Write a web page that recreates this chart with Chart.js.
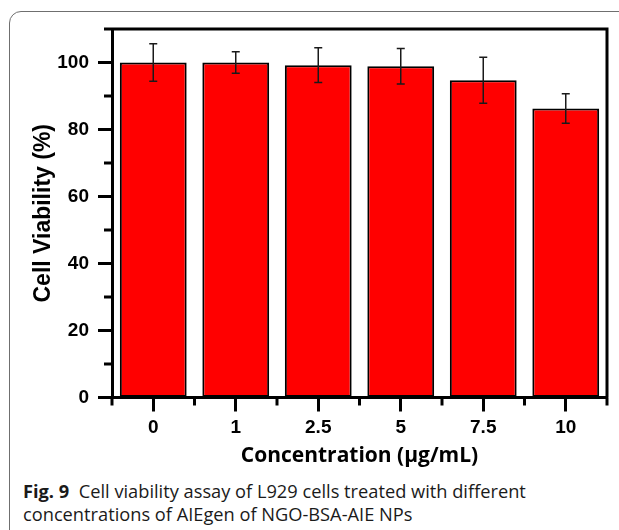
<!DOCTYPE html>
<html>
<head>
<meta charset="utf-8">
<script src="https://cdn.jsdelivr.net/npm/chart.js@4.4.1/dist/chart.umd.min.js"></script>
<style>
	html, body { margin: 0; padding: 0; background: #fff; }
	body { width: 619px; height: 530px; position: relative; overflow: hidden; }
	#frame {
		position: absolute; left: 9px; top: 11px; width: 700px; height: 600px;
		border: 1.5px solid #6f6f6f; border-top-left-radius: 12px; box-sizing: border-box;
	}
	#wrap { position: absolute; left: 0; top: 0; width: 619px; height: 470px; }
	#caption {
		position: absolute; left: 23px; top: 480px; font-family: "Open Sans", sans-serif;
		font-size: 18.5px; line-height: 23px; color: #1a1a1a; white-space: nowrap;
	}
	#caption b { font-weight: 700; }
</style>
</head>
<body>
<div id="frame"></div>
<div id="wrap"><canvas id="viability-chart" width="619" height="470"></canvas></div>
<div id="caption"><span id="cap1"><b>Fig. 9</b>&nbsp; Cell viability assay of L929 cells treated with different</span><br>concentrations of AIEgen of NGO-BSA-AIE NPs</div>
<script>
const concentrations = ["0", "1", "2.5", "5", "7.5", "10"];
const viability = [100, 100, 99.2, 98.9, 94.7, 86.3];
const viabilityErr = [5.6, 3.2, 5.2, 5.3, 6.9, 4.4];
const yTicks = [0, 20, 40, 60, 80, 100];
const yMinorTicks = [10, 30, 50, 70, 90, 110];

const axisFont = { family: "'Liberation Sans', Arial, sans-serif", weight: "bold", size: 19 };

// fit the caption's first line to the width it has in the figure
const cap = document.getElementById("caption");
const capWidth = document.getElementById("cap1").getBoundingClientRect().width;
cap.style.fontSize = (18.5 * 503 / capWidth).toFixed(2) + "px";

// frame, minor ticks and error bars
const extras = {
	id: "extras",
	afterDatasetsDraw(chart) {
		const { ctx, chartArea: area } = chart;
		const x = chart.scales.x;
		const y = chart.scales.y;
		ctx.save();
		ctx.strokeStyle = "#000";
		ctx.lineWidth = 3;
		ctx.beginPath();
		ctx.moveTo(area.left, area.top);
		ctx.lineTo(area.right, area.top);
		ctx.lineTo(area.right, area.bottom);
		ctx.stroke();

		yMinorTicks.forEach(v => {
			const py = y.getPixelForValue(v);
			ctx.beginPath();
			ctx.moveTo(area.left - 8, py);
			ctx.lineTo(area.left, py);
			ctx.stroke();
		});
		for (let i = 0; i <= concentrations.length; i++) {
			const px = x.getPixelForValue(i - 0.5);
			ctx.beginPath();
			ctx.moveTo(px, area.bottom);
			ctx.lineTo(px, area.bottom + 8);
			ctx.stroke();
		}

		ctx.strokeStyle = "#1a1a1a";
		ctx.lineWidth = 1.5;
		viability.forEach((v, i) => {
			const px = x.getPixelForValue(i);
			const hi = y.getPixelForValue(v + viabilityErr[i]);
			const lo = y.getPixelForValue(v - viabilityErr[i]);
			ctx.beginPath();
			ctx.moveTo(px, hi);
			ctx.lineTo(px, lo);
			ctx.moveTo(px - 4, hi);
			ctx.lineTo(px + 4, hi);
			ctx.moveTo(px - 4, lo);
			ctx.lineTo(px + 4, lo);
			ctx.stroke();
		});
		ctx.restore();
	},
};

new Chart(document.getElementById("viability-chart"), {
	type: "bar",
	data: {
		labels: concentrations,
		datasets: [{
			data: viability,
			backgroundColor: "#ff0000",
			borderColor: "#000",
			borderWidth: 2,
			borderSkipped: false,
			barPercentage: 0.81,
			categoryPercentage: 1,
		}],
	},
	options: {
		responsive: false,
		animation: false,
		events: [],
		layout: { padding: { top: 29, right: 12, left: 0, bottom: 0 } },
		plugins: { legend: { display: false }, tooltip: { enabled: false } },
		scales: {
			x: {
				afterFit: s => { s.height = 72.5; },
				grid: { drawOnChartArea: false, offset: false, tickLength: 14, tickWidth: 3, color: "#000" },
				border: { width: 3, color: "#000" },
				ticks: { color: "#000", font: axisFont, padding: 5, maxRotation: 0 },
				title: {
					display: true, text: "Concentration (µg/mL)", color: "#000",
					font: { family: "'Open Sans', sans-serif", weight: "bold", size: 21, lineHeight: 1 },
					padding: { top: 3.5, bottom: 3.5 },
				},
			},
			y: {
				min: 0, max: 110,
				afterFit: s => { s.width = 112; },
				afterBuildTicks: s => { s.ticks = yTicks.map(v => ({ value: v })); },
				grid: { drawOnChartArea: false, tickLength: 14, tickWidth: 3, color: "#000" },
				border: { width: 3, color: "#000" },
				ticks: { color: "#000", font: axisFont, padding: 9 },
				title: {
					display: true, text: "Cell Viability (%)", color: "#000",
					font: { family: "'Liberation Sans', Arial, sans-serif", weight: "bold", size: 23, lineHeight: 1 },
					padding: { top: 32, bottom: 32 },
				},
			},
		},
	},
	plugins: [extras],
});
</script>
</body>
</html>
